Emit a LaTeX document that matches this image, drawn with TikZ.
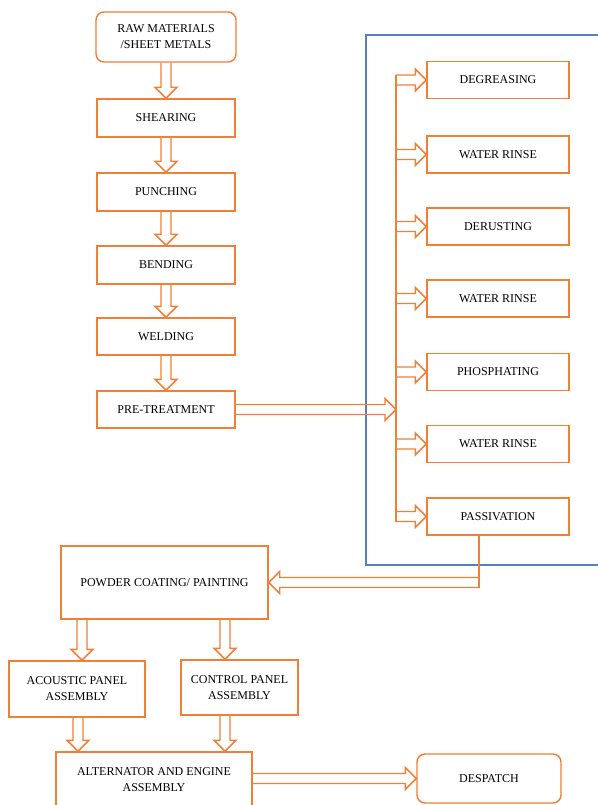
\documentclass[tikz,border=0pt]{standalone}
\usepackage{fontspec}
\setmainfont{Liberation Serif}
\usetikzlibrary{calc}

\definecolor{floworange}{RGB}{240,128,56}
\definecolor{frameblue}{RGB}{84,130,190}

\tikzset{every picture/.style={line width=1.1pt},
  stepbox/.style={draw=floworange, line width=1.1pt, inner sep=0.75pt, align=center, font=\fontsize{9}{12}\selectfont},
  flowline/.style={draw=floworange, line width=1.1pt, line join=miter}}

% hollow block arrow from #1 to #2
\newcommand{\hollowarrow}[2]{%
  \draw [flowline] let \p1=#1, \p2=#2, \n1={atan2(\y2-\y1,\x2-\x1)}, \n2={veclen(\x2-\x1,\y2-\y1)} in
    [shift={(\p1)}, rotate=\n1] (0pt,3.75pt) -- ({\n2-8.25pt},3.75pt) -- ({\n2-8.25pt},8.25pt) -- ({\n2+0pt},0pt)
    -- ({\n2-8.25pt},-8.25pt) -- ({\n2-8.25pt},-3.75pt) -- (0pt,-3.75pt) ;}

\begin{document}
\begin{tikzpicture}[x=0.75pt,y=-0.75pt]
\useasboundingbox (0,0) rectangle (598,805);

%Shape: Frame of the pre-treatment line
\draw [frameblue, line width=0.9pt] (600,35) -- (366,35) -- (366,565) -- (600,565) ;

%Left column
\node [stepbox, rounded corners=6pt, minimum width={140*0.75pt}, minimum height={50*0.75pt}] (raw) at (166,37) {RAW MATERIALS\\/SHEET METALS};
\node [stepbox, minimum width={138*0.75pt}, minimum height={38*0.75pt}] (shear) at (166,118) {SHEARING};
\node [stepbox, minimum width={138*0.75pt}, minimum height={38*0.75pt}] (punch) at (166,192) {PUNCHING};
\node [stepbox, minimum width={138*0.75pt}, minimum height={38*0.75pt}] (bend) at (166,265) {BENDING};
\node [stepbox, minimum width={138*0.75pt}, minimum height={37*0.75pt}] (weld) at (166,336.5) {WELDING};
\node [stepbox, minimum width={138*0.75pt}, minimum height={37*0.75pt}] (pre) at (166,409.5) {PRE-TREATMENT};

%Right column
\node [stepbox, minimum width={142*0.75pt}, minimum height={37*0.75pt}] (degrease) at (498,80) {DEGREASING};
\node [stepbox, minimum width={142*0.75pt}, minimum height={37*0.75pt}] (rinsea) at (498,154.5) {WATER RINSE};
\node [stepbox, minimum width={142*0.75pt}, minimum height={37*0.75pt}] (derust) at (498,226.5) {DERUSTING};
\node [stepbox, minimum width={142*0.75pt}, minimum height={37*0.75pt}] (rinseb) at (498,298.5) {WATER RINSE};
\node [stepbox, minimum width={142*0.75pt}, minimum height={37*0.75pt}] (phosphate) at (498,372) {PHOSPHATING};
\node [stepbox, minimum width={142*0.75pt}, minimum height={37*0.75pt}] (rinsec) at (498,444) {WATER RINSE};
\node [stepbox, minimum width={142*0.75pt}, minimum height={37*0.75pt}] (passivate) at (498,516.5) {PASSIVATION};

%Bottom part
\node [stepbox, minimum width={207*0.75pt}, minimum height={73*0.75pt}] (powder) at (164.5,582.5) {POWDER COATING/ PAINTING};
\node [stepbox, minimum width={136*0.75pt}, minimum height={56*0.75pt}] (acoustic) at (77,689) {ACOUSTIC PANEL\\ASSEMBLY};
\node [stepbox, minimum width={117*0.75pt}, minimum height={55*0.75pt}] (control) at (239.5,687.5) {CONTROL PANEL\\ASSEMBLY};
\node [stepbox, minimum width={196*0.75pt}, minimum height={56*0.75pt}] (engine) at (154,780) {ALTERNATOR AND ENGINE\\ASSEMBLY};
\node [stepbox, rounded corners=6pt, minimum width={144*0.75pt}, minimum height={49*0.75pt}] (despatch) at (489,778.5) {DESPATCH};

%Straight Lines: feed line and drop
\coordinate (bustop) at (396,75);
\coordinate (busbot) at (396,522);
\coordinate (drop) at (479,588);
\draw [flowline] (bustop) -- (busbot) ;
\draw [flowline] (passivate.south -| drop) -- (drop) ;

%Split and join points
\coordinate (lsplit) at (82,640);
\coordinate (rsplit) at (225,640);
\coordinate (ljoin) at (78,735);

%Block arrows
\hollowarrow{(raw.south)}{(shear.north)}
\hollowarrow{(shear.south)}{(punch.north)}
\hollowarrow{(punch.south)}{(bend.north)}
\hollowarrow{(bend.south)}{(weld.north)}
\hollowarrow{(weld.south)}{(pre.north)}
\hollowarrow{(pre.east)}{(bustop |- pre.east)}
\foreach \s in {degrease,rinsea,derust,rinseb,phosphate,rinsec,passivate}
  {\hollowarrow{(bustop |- \s.west)}{(\s.west)}}
\hollowarrow{(drop |- powder.east)}{(powder.east)}
\hollowarrow{(lsplit |- powder.south)}{(lsplit |- acoustic.north)}
\hollowarrow{(rsplit |- powder.south)}{(rsplit |- control.north)}
\hollowarrow{(ljoin |- acoustic.south)}{(ljoin |- engine.north)}
\hollowarrow{(rsplit |- control.south)}{(rsplit |- engine.north)}
\hollowarrow{(engine.east |- despatch.west)}{(despatch.west)}

\end{tikzpicture}
\end{document}
